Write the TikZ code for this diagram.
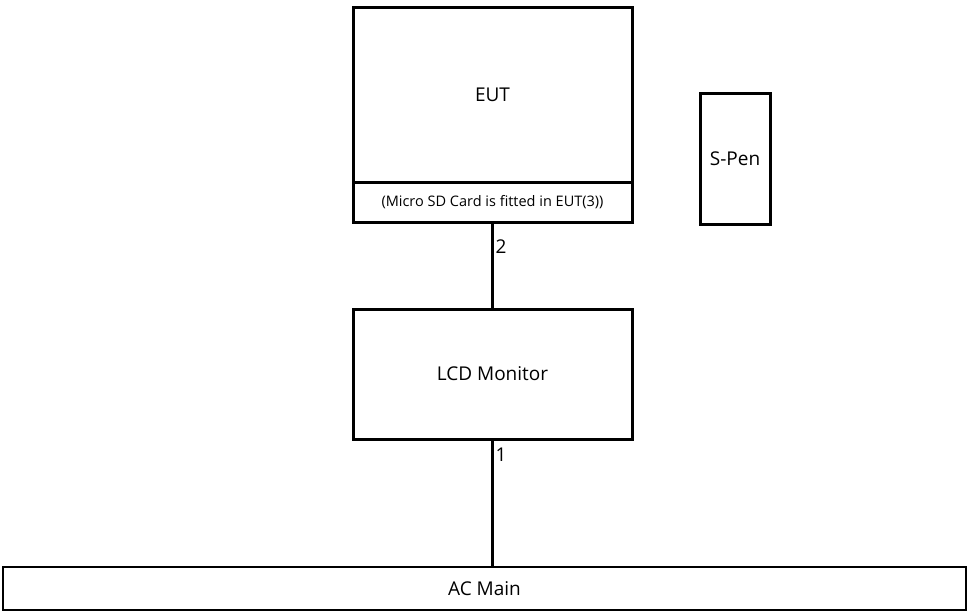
\documentclass[tikz,border=0pt]{standalone}
\usepackage{fontspec}
\setmainfont{Open Sans}
\usetikzlibrary{positioning}
\tikzstyle{unit} = [
    rectangle,
    draw=black,
    line width=3pt,
    inner sep=0pt,
    text centered,
    font=\fontsize{19}{23}\selectfont
]
\tikzstyle{cable} = [
    draw,
    line width=2.2pt
]
\tikzstyle{port} = [inner sep=2pt, font=\fontsize{19}{23}\selectfont]

\begin{document}
\begin{tikzpicture}[x=1pt, y=-1pt]
\useasboundingbox (0,0) rectangle (967,611);

\node[unit, minimum width=279pt, minimum height=175pt] (eut)   at (492.5,94.5) {EUT};
\node[unit, minimum width=279pt, minimum height=40pt, font=\fontsize{14.5}{17}\selectfont]
     (sdcard) at (492.5,202) {(Micro SD Card is fitted in EUT(3))};
\node[unit, minimum width=70pt, minimum height=131pt]   (spen)  at (735,158.5) {S-Pen};
\node[unit, minimum width=279pt, minimum height=130pt]  (lcd)   at (492.5,374) {LCD Monitor};
\node[unit, line width=2.2pt, minimum width=963pt, minimum height=43pt] (acmain) at (484.5,588.5) {AC Main};

\draw[cable] (sdcard.south) to node[port, anchor=west, pos=0.28] {2} (lcd.north);
\draw[cable] (lcd.south)    to node[port, anchor=west, pos=0.11] {1} (lcd.south |- acmain.north);
\end{tikzpicture}
\end{document}
